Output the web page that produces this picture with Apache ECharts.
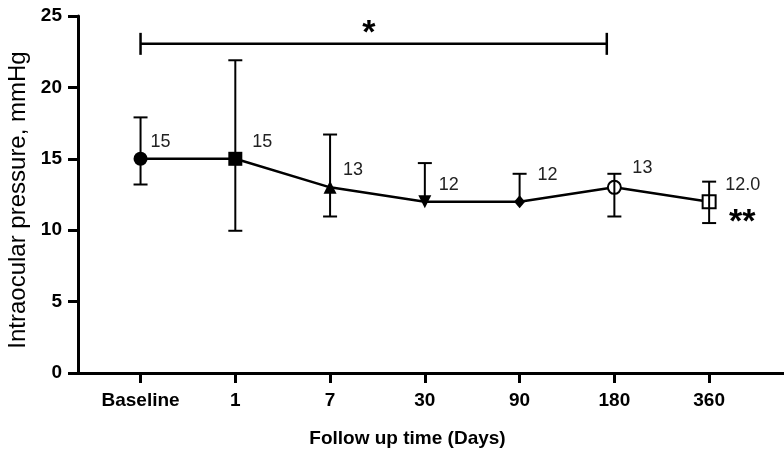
<!DOCTYPE html>
<html>
<head>
<meta charset="utf-8">
<script src="https://cdn.jsdelivr.net/npm/echarts@6/dist/echarts.min.js"></script>
<style>
html,body{margin:0;padding:0;background:#fff;}
#chart{width:784px;height:451px;}
</style>
</head>
<body>
<div id="chart"></div>
<script>
// ---- data ----
const categories = ['Baseline', '1', '7', '30', '90', '180', '360'];
const means = [15, 15, 13, 12, 12, 13, 12];
const upperErr = [17.9, 21.9, 16.7, 14.7, 13.95, 13.95, 13.4];
const lowerErr = [13.2, 9.96, 10.96, null, null, 10.96, 10.5];
const valueLabels = ['15', '15', '13', '12', '12', '13', '12.0'];
const yTicks = [0, 5, 10, 15, 20, 25];
const bracketSpan = [0, 4.92];
const bracketLevel = 23.05;
const starNotes = [
  { x: 2.41, y: 23.75, text: '*' },
  { x: 6.35, y: 10.55, text: '**' }
];

// ---- styles ----
const FONT = '"Liberation Sans", Arial, sans-serif';
const markerStyles = [
  { symbol: 'circle', size: 14, fill: '#000' },
  { symbol: 'rect', size: 14, fill: '#000' },
  { symbol: 'triangle', size: 13, fill: '#000' },
  { symbol: 'path://M0,0L10,0L5,10Z', size: 13, fill: '#000' },
  { symbol: 'diamond', size: [11, 13], fill: '#000' },
  { symbol: 'circle', size: 13, fill: '#fff' },
  { symbol: 'rect', size: 13, fill: '#fff' }
];
const labelOffsets = [[10, -17], [17, -17], [13, -17], [14, -17], [18, -27], [18, -19], [16, -17]];
const catIdx = categories.map((c, i) => i);

const chart = echarts.init(document.getElementById('chart'), null, { renderer: 'canvas' });

const lineData = means.map((v, i) => ({
  value: [i, v],
  symbol: markerStyles[i].symbol,
  symbolSize: markerStyles[i].size,
  itemStyle: { color: markerStyles[i].fill, borderColor: '#000', borderWidth: markerStyles[i].fill === '#fff' ? 2 : 0 },
  label: {
    show: true,
    formatter: valueLabels[i],
    position: 'inside',
    offset: labelOffsets[i],
    align: 'left',
    verticalAlign: 'middle',
    fontFamily: FONT,
    fontSize: 18,
    color: '#222'
  }
}));

const errData = means.map((m, i) => [i, upperErr[i], lowerErr[i] == null ? m : lowerErr[i], lowerErr[i] == null ? 0 : 1]);

const option = {
  backgroundColor: '#fff',
  animation: false,
  grid: { left: 78, right: 0, top: 16, bottom: 78, containLabel: false, outerBoundsMode: 'none' },
  xAxis: [{
    type: 'value',
    min: -0.66,
    max: 6.79,
    name: 'Follow up time (Days)',
    nameLocation: 'middle',
    nameGap: 56,
    nameTextStyle: { fontFamily: FONT, fontSize: 19, fontWeight: 'bold', color: '#000', padding: [0, 47, 0, 0] },
    axisLine: { show: true, onZero: false, lineStyle: { color: '#000', width: 3 } },
    axisTick: { show: true, length: 10, lineStyle: { color: '#000', width: 3 }, customValues: catIdx },
    axisLabel: {
      customValues: catIdx,
      formatter: v => categories[Math.round(v)],
      fontFamily: FONT, fontSize: 19, fontWeight: 'bold', color: '#000', margin: 18
    },
    splitLine: { show: false }
  }, {
    type: 'value',
    position: 'bottom',
    min: -0.66,
    max: 6.79,
    axisLine: { show: false, onZero: false },
    axisTick: { show: true, length: 10, lineStyle: { color: '#000', width: 3 }, customValues: catIdx },
    axisLabel: { show: false, customValues: catIdx },
    splitLine: { show: false }
  }],
  yAxis: {
    type: 'value',
    min: yTicks[0],
    max: yTicks[yTicks.length - 1],
    interval: 5,
    name: 'Intraocular pressure, mmHg',
    nameLocation: 'middle',
    nameGap: 45,
    nameRotate: 90,
    nameTextStyle: { fontFamily: FONT, fontSize: 24, color: '#000', padding: [0, 11, 0, 0] },
    axisLine: { show: true, onZero: false, lineStyle: { color: '#000', width: 3 } },
    axisTick: { show: true, length: 10, lineStyle: { color: '#000', width: 3 } },
    axisLabel: { fontFamily: FONT, fontSize: 19, fontWeight: 'bold', color: '#000', margin: 16 },
    splitLine: { show: false }
  },
  series: [
    {
      type: 'line',
      data: lineData,
      lineStyle: { color: '#000', width: 2.5 },
      z: 2
    },
    {
      type: 'custom',
      z: 3,
      data: errData,
      renderItem: function (params, api) {
        const x = api.value(0);
        const hi = api.coord([x, api.value(1)]);
        const lo = api.coord([x, api.value(2)]);
        const hasLo = api.value(3) === 1;
        const st = { stroke: '#000', lineWidth: 2, fill: null };
        const children = [
          { type: 'line', shape: { x1: hi[0], y1: hi[1], x2: lo[0], y2: lo[1] }, style: st },
          { type: 'line', shape: { x1: hi[0] - 7, y1: hi[1], x2: hi[0] + 7, y2: hi[1] }, style: st }
        ];
        if (hasLo) children.push({ type: 'line', shape: { x1: lo[0] - 7, y1: lo[1], x2: lo[0] + 7, y2: lo[1] }, style: st });
        return { type: 'group', children: children };
      }
    },
    {
      type: 'custom',
      z: 3,
      data: [[bracketSpan[0], bracketSpan[1], bracketLevel]],
      renderItem: function (params, api) {
        const a = api.coord([api.value(0), api.value(2)]);
        const b = api.coord([api.value(1), api.value(2)]);
        const st = { stroke: '#000', lineWidth: 2.5, fill: null };
        return {
          type: 'group',
          children: [
            { type: 'line', shape: { x1: a[0], y1: a[1], x2: b[0], y2: b[1] }, style: st },
            { type: 'line', shape: { x1: a[0], y1: a[1] - 11, x2: a[0], y2: a[1] + 11 }, style: st },
            { type: 'line', shape: { x1: b[0], y1: b[1] - 11, x2: b[0], y2: b[1] + 11 }, style: st }
          ]
        };
      }
    },
    {
      type: 'custom',
      z: 3,
      data: starNotes.map(s => [s.x, s.y, s.text]),
      renderItem: function (params, api) {
        const p = api.coord([api.value(0), api.value(1)]);
        return {
          type: 'text',
          x: p[0], y: p[1],
          style: {
            text: starNotes[params.dataIndex].text,
            fontFamily: FONT, fontSize: 34, fontWeight: 'bold', fill: '#000',
            align: 'center', verticalAlign: 'middle'
          }
        };
      }
    }
  ]
};
chart.setOption(option);
</script>
</body>
</html>
